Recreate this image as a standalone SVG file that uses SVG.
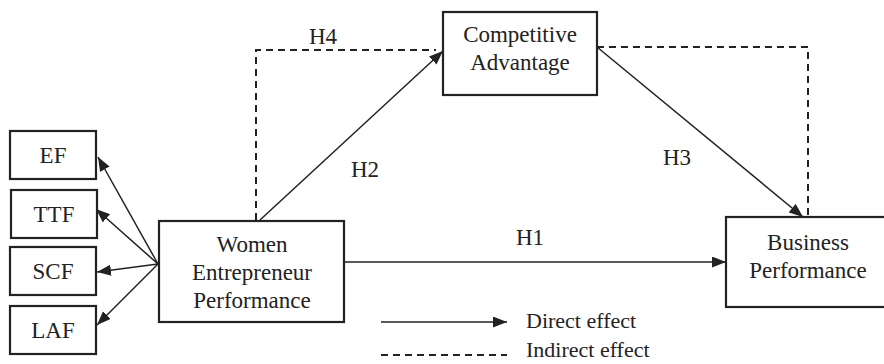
<svg xmlns="http://www.w3.org/2000/svg" width="884" height="364" viewBox="0 0 884 364">
<style>
  .box { fill: #fff; stroke: #222; stroke-width: 2.2; }
  .t { font-family: "Liberation Serif", "Times New Roman", serif; font-size: 23px; fill: #222; text-anchor: middle; }
  .ts { font-family: "Liberation Serif", "Times New Roman", serif; font-size: 22px; fill: #222; }
  .ln { fill: none; stroke: #222; stroke-width: 1.5; }
  .dash { fill: none; stroke: #222; stroke-width: 2; stroke-dasharray: 7 5; }
</style>
<defs>
  <marker id="arr" markerUnits="userSpaceOnUse" markerWidth="15" markerHeight="12" refX="14" refY="5.5" orient="auto">
    <path d="M0,0 L14,5.5 L0,11 Z" fill="#222"/>
  </marker>
</defs>
<rect width="884" height="364" fill="#fff"/>

<g id="connectors">
  <path class="dash" d="M256,220 V50 H436"/>
  <path class="dash" d="M597,47 H808 V217"/>
  <line class="ln" x1="260" y1="220" x2="443" y2="51" marker-end="url(#arr)"/>
  <line class="ln" x1="597" y1="47" x2="803" y2="217" marker-end="url(#arr)"/>
  <line class="ln" x1="344" y1="262" x2="726" y2="262" marker-end="url(#arr)"/>
  <line class="ln" x1="158" y1="264" x2="98" y2="157" marker-end="url(#arr)"/>
  <line class="ln" x1="158" y1="264" x2="96" y2="209" marker-end="url(#arr)"/>
  <line class="ln" x1="158" y1="264" x2="97" y2="272" marker-end="url(#arr)"/>
  <line class="ln" x1="158" y1="264" x2="97" y2="325" marker-end="url(#arr)"/>
  <text class="t" x="323" y="44">H4</text>
  <text class="t" x="365" y="177">H2</text>
  <text class="t" x="677" y="165">H3</text>
  <text class="t" x="530" y="245">H1</text>
</g>

<g id="EF"><rect class="box" x="10" y="131" width="86" height="48"/><text class="t" x="53" y="163">EF</text></g>
<g id="TTF"><rect class="box" x="11" y="190" width="86" height="48"/><text class="t" x="54" y="222">TTF</text></g>
<g id="SCF"><rect class="box" x="10" y="247" width="86" height="48"/><text class="t" x="53" y="279">SCF</text></g>
<g id="LAF"><rect class="box" x="10" y="306" width="86" height="48"/><text class="t" x="53" y="338">LAF</text></g>

<g id="WEP">
  <rect class="box" x="159" y="221" width="185" height="101"/>
  <text class="t" x="252" y="252">Women</text>
  <text class="t" x="252" y="280">Entrepreneur</text>
  <text class="t" x="252" y="308">Performance</text>
</g>

<g id="CA">
  <rect class="box" x="443" y="12" width="154" height="83"/>
  <text class="t" x="520" y="42">Competitive</text>
  <text class="t" x="520" y="70">Advantage</text>
</g>

<g id="BP">
  <rect class="box" x="726" y="217" width="166" height="90"/>
  <text class="t" x="808" y="250">Business</text>
  <text class="t" x="808" y="278">Performance</text>
</g>

<g id="legend">
  <line class="ln" x1="381" y1="322" x2="507" y2="322" marker-end="url(#arr)"/>
  <text class="ts" x="526" y="328">Direct effect</text>
  <line class="dash" x1="381" y1="355" x2="507" y2="355" stroke-width="1.5"/>
  <text class="ts" x="526" y="357">Indirect effect</text>
</g>
</svg>
